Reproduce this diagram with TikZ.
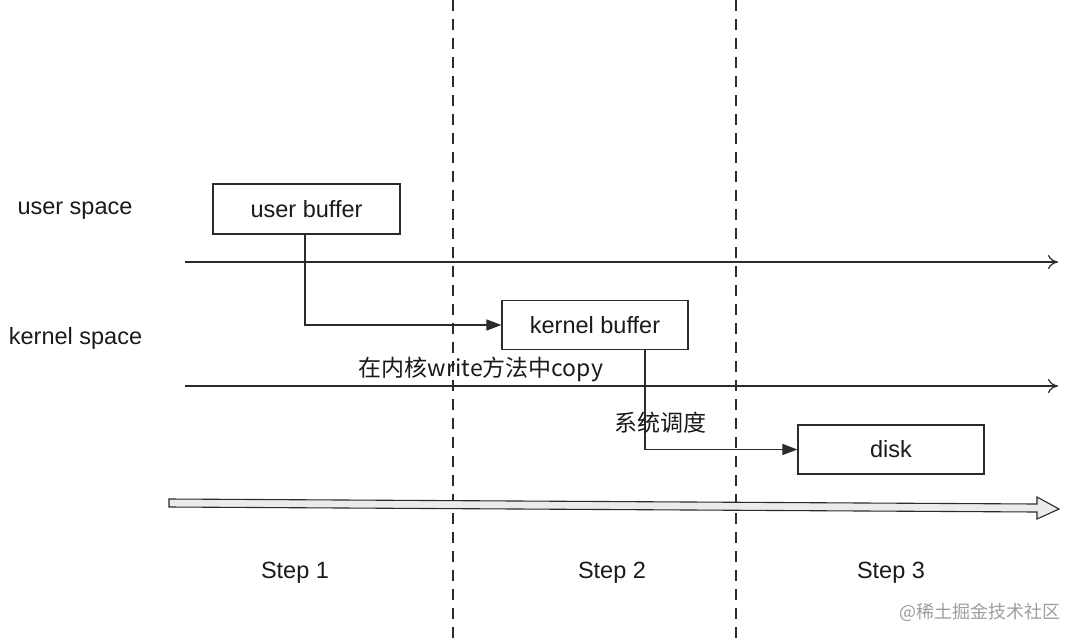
\documentclass[tikz,border=0pt]{standalone}
\usepackage{fontspec}
\setmainfont{Liberation Sans}
\newfontfamily\cjk{Noto Sans CJK SC}
\usetikzlibrary{arrows.meta}
\definecolor{ink}{HTML}{1A1A1A}
\definecolor{linec}{HTML}{2B2B2B}
\tikzset{
  boxnode/.style={draw=linec, line width=1.2pt, inner sep=0pt, minimum width=186pt, minimum height=49pt, text=ink, font=\fontsize{23.5}{28}\selectfont},
  lbl/.style={text=ink, inner sep=0pt, font=\fontsize{23.5}{28}\selectfont},
  cjklbl/.style={text=ink, inner sep=0pt, font=\cjk\fontsize{23}{28}\selectfont},
  layer/.style={draw=linec, line width=1.2pt, -{To[length=10pt,width=14pt,line width=1.2pt]}},
  conn/.style={draw=linec, line width=1.4pt, -{Triangle[length=15pt,width=11pt]}},
  divider/.style={draw=linec, line width=1.2pt, dash pattern=on 11pt off 8pt},
}
\begin{document}
\begin{tikzpicture}[x=1pt,y=-1pt]
\useasboundingbox (0,0) rectangle (1080,641);
\fill[white] (0,0) rectangle (1080,641);
% dividers
\coordinate (d1t) at (453,0); \coordinate (d1b) at (453,641);
\coordinate (d2t) at (736,0); \coordinate (d2b) at (736,641);
\draw[divider] (d1t) -- (d1b);
\draw[divider] (d2t) -- (d2b);
% layer lines
\coordinate (l1a) at (185,262); \coordinate (l1b) at (1058,262);
\coordinate (l2a) at (185,386); \coordinate (l2b) at (1058,386);
\draw[layer] (l1a) -- (l1b);
\draw[layer] (l2a) -- (l2b);
% labels
\node[lbl] (us) at (75,211) {user space};
\node[lbl] (ks) at (75.5,338) {kernel space};
% boxes
\node[boxnode, minimum width=187pt, minimum height=50pt] (ub) at (306.5,209) {\raisebox{-2pt}{user buffer}};
\node[boxnode] (kb) at (595,325) {\raisebox{-2pt}{kernel buffer}};
\node[boxnode] (disk) at (891,449.5) {\raisebox{-2pt}{disk}};
% connectors
\draw[conn] ([xshift=-1.5pt]ub.south) |- (kb.west);
\draw[conn] ([xshift=50pt]kb.south) |- (disk.west);
\node[cjklbl] (copy) at (481,369) {在内核write方法中copy};
\node[cjklbl] (sched) at (660,423) {系统调度};
% big time arrow
\draw[draw=linec, line width=1.1pt, fill=black!8]
  (169,499) -- (1037,504) -- (1037,497) -- (1059,509) -- (1037,519) -- (1037,512) -- (169,507) -- cycle;
% steps
\node[lbl] (s1) at (295,573) {Step 1};
\node[lbl] (s2) at (612,573) {Step 2};
\node[lbl] (s3) at (891,573) {Step 3};
% watermark
\node[text=black!38, inner sep=0pt, font=\cjk\fontsize{18}{22}\selectfont] (wm) at (980,612) {@稀土掘金技术社区};
\end{tikzpicture}
\end{document}
